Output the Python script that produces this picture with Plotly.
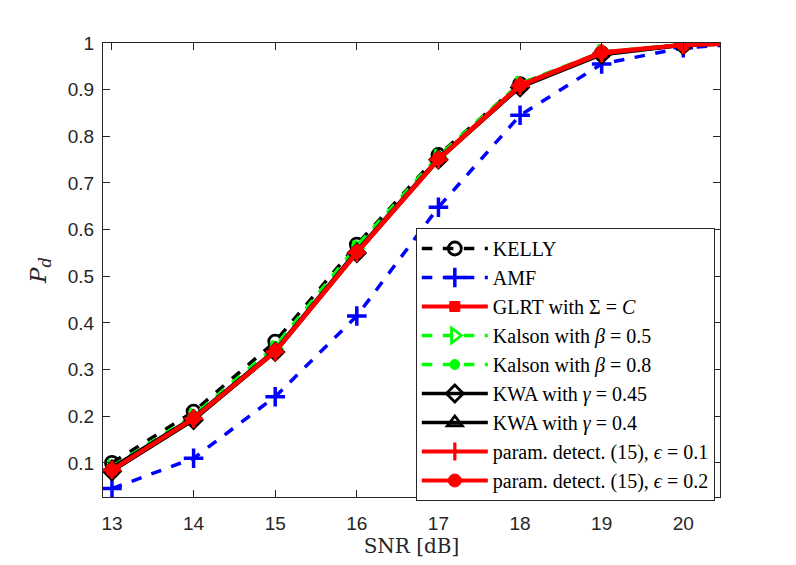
import plotly.graph_objects as go

snr = [13, 14, 15, 16, 17, 18, 19, 20, 21]

kelly = [0.100, 0.210, 0.360, 0.568, 0.760, 0.912, 0.978, 0.996, 1.0]
amf = [0.045, 0.110, 0.242, 0.415, 0.648, 0.845, 0.955, 0.990, 1.0]
glrt = [0.085, 0.195, 0.338, 0.550, 0.750, 0.908, 0.978, 0.996, 1.0]
kalson05 = [0.090, 0.200, 0.345, 0.560, 0.755, 0.912, 0.980, 0.997, 1.0]
kalson08 = [0.092, 0.202, 0.350, 0.565, 0.758, 0.913, 0.980, 0.997, 1.0]
kwa045 = [0.082, 0.192, 0.338, 0.550, 0.750, 0.905, 0.975, 0.995, 1.0]
kwa04 = [0.090, 0.198, 0.342, 0.555, 0.753, 0.908, 0.978, 0.996, 1.0]
param01 = [0.085, 0.195, 0.338, 0.550, 0.750, 0.908, 0.978, 0.996, 1.0]
param02 = [0.085, 0.196, 0.340, 0.552, 0.752, 0.910, 0.980, 0.996, 1.0]

x_ticks = [13, 14, 15, 16, 17, 18, 19, 20]
y_ticks = [0.1, 0.2, 0.3, 0.4, 0.5, 0.6, 0.7, 0.8, 0.9, 1.0]
y_ticklabels = ["0.1", "0.2", "0.3", "0.4", "0.5", "0.6", "0.7", "0.8", "0.9", "1"]

series = [
    ("KELLY", kelly, "#000000", "dash", "circle-open", 13, 2.8, 3.5),
    ("AMF", amf, "#0000FF", "dash", "cross-thin", 14, 3.5, 3.5),
    ("GLRT with Σ = <i>C</i>", glrt, "#FF0000", "solid", "square", 10, 1, 4),
    ("Kalson with <i>β</i> = 0.5", kalson05, "#00FF00", "dash", "triangle-right-open", 13, 2.8, 3.5),
    ("Kalson with <i>β</i> = 0.8", kalson08, "#00FF00", "dash", "circle", 10, 1, 3.5),
    ("KWA with <i>γ</i> = 0.45", kwa045, "#000000", "solid", "diamond-open", 13, 2.8, 3.5),
    ("KWA with <i>γ</i> = 0.4", kwa04, "#000000", "solid", "triangle-up-open", 13, 2.8, 3.5),
    ("param. detect. (15), <i>ϵ</i> = 0.1", param01, "#FF0000", "solid", "cross-thin", 13, 3.2, 4),
    ("param. detect. (15), <i>ϵ</i> = 0.2", param02, "#FF0000", "solid", "circle", 13, 1, 4),
]

fig = go.Figure()
for name, y, color, dash, sym, size, mlw, lw in series:
    fig.add_trace(go.Scatter(
        x=snr, y=y, name=name, mode="lines+markers",
        line=dict(color=color, width=lw, dash=dash),
        marker=dict(symbol=sym, size=size, color=color,
                    line=dict(color=color, width=mlw)),
    ))

axis_common = dict(
    showline=True, linecolor="#262626", linewidth=1, mirror="ticks",
    ticks="inside", ticklen=7, tickcolor="#262626", showgrid=False,
    zeroline=False, tickfont=dict(family="Liberation Sans, Arial", size=19, color="#262626"),
)

fig.update_layout(
    width=796, height=565,
    margin=dict(l=103, r=76, t=43, b=68),
    paper_bgcolor="white", plot_bgcolor="white",
    xaxis=dict(range=[12.89, 20.45], tickvals=x_ticks, ticklabelstandoff=9,
               title=dict(text="SNR [dB]", font=dict(family="DejaVu Serif", size=20, color="#262626"), standoff=4),
               **axis_common),
    yaxis=dict(range=[0.027, 1.0], tickvals=y_ticks, ticktext=y_ticklabels, ticklabelstandoff=4,
               title=dict(text="<i>P<sub>d</sub></i>", font=dict(family="DejaVu Serif", size=23, color="#262626"), standoff=14),
               **axis_common),
    legend=dict(
        x=0.507, y=0.5925, xanchor="left", yanchor="top",
        bgcolor="white", bordercolor="#262626", borderwidth=1,
        font=dict(family="Liberation Serif", size=20, color="black"),
        itemwidth=66, tracegroupgap=0,
    ),
    showlegend=True,
)

fig.write_html("out.html")
